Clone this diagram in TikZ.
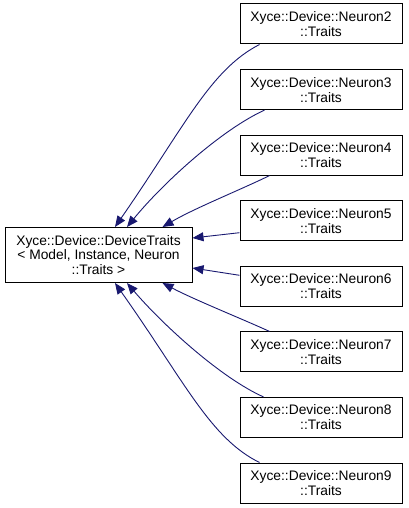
\documentclass[tikz,border=0pt]{standalone}
\usepackage{fontspec}
\setmainfont{Liberation Sans}
\usetikzlibrary{arrows.meta,calc}
\definecolor{edgeblue}{RGB}{25,25,112}
\begin{document}
\begin{tikzpicture}[x=1pt,y=-1pt,
  box/.style={draw=black,fill=white,line width=1pt,inner sep=0pt,align=center,
    font=\fontsize{13.8}{15}\selectfont},
  rbox/.style={box,minimum width=162pt,minimum height=40pt},
  edge/.style={draw=edgeblue,line width=0.9pt,-{Triangle[length=11pt,width=9pt]}}]
\useasboundingbox (0,0) rectangle (408,508);
\node[box,minimum width=187pt,minimum height=55pt] (L) at (98.5,255) {Xyce::Device::DeviceTraits\\[-0.5pt]{<} Model, Instance, Neuron\\[-0.5pt]::Traits >};
\node[rbox] (n2) at (321,24) {Xyce::Device::Neuron2\\::Traits};
\node[rbox] (n3) at (321,89.6) {Xyce::Device::Neuron3\\::Traits};
\node[rbox] (n4) at (321,155.1) {Xyce::Device::Neuron4\\::Traits};
\node[rbox] (n5) at (321,220.7) {Xyce::Device::Neuron5\\::Traits};
\node[rbox] (n6) at (321,286.3) {Xyce::Device::Neuron6\\::Traits};
\node[rbox] (n7) at (321,351.9) {Xyce::Device::Neuron7\\::Traits};
\node[rbox] (n8) at (321,417.4) {Xyce::Device::Neuron8\\::Traits};
\node[rbox] (n9) at (321,483) {Xyce::Device::Neuron9\\::Traits};
\draw[edge] ($(n2.south west)+(20,0)$) .. controls (210,70) and (185,126) .. ($(L.north)+(16.5,0)$);
\draw[edge] ($(n3.south west)+(25,0)$) .. controls (221,130) and (163,183) .. ($(L.north)+(28.5,0)$);
\draw[edge] ($(n4.south west)+(30,0)$) .. controls (240,190) and (195,208) .. ($(L.north)+(64,0)$);
\draw[edge] ($(n5.west)+(0,12)$) -- ($(L.east)+(0,-17)$);
\draw[edge] ($(n6.west)+(0,-11)$) -- ($(L.east)+(0,13)$);
\draw[edge] ($(n7.north west)+(30,0)$) .. controls (240,318) and (195,300) .. ($(L.south)+(64,0)$);
\draw[edge] ($(n8.north west)+(24,0)$) .. controls (221,378) and (163,325) .. ($(L.south)+(28.5,0)$);
\draw[edge] ($(n9.north west)+(20,0)$) .. controls (210,438) and (185,382) .. ($(L.south)+(16.5,0)$);
\end{tikzpicture}
\end{document}
